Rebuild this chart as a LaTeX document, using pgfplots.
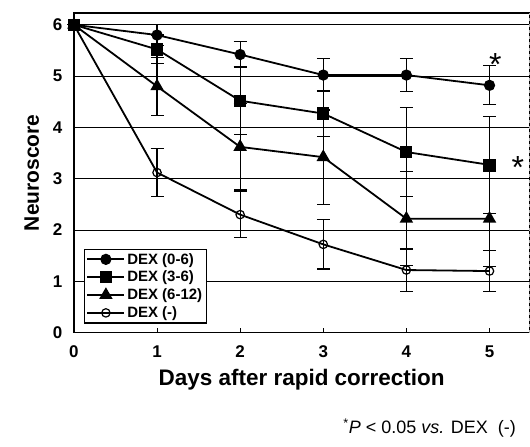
\documentclass[border=0pt]{standalone}
\usepackage{pgfplots}
\pgfplotsset{compat=1.18}
\usepackage{fontspec}
\setmainfont{Liberation Sans}
\begin{document}
\begin{tikzpicture}
\pgfplotsset{
  ebar/.style={error bars/.cd, y dir=both, y explicit,
    error bar style={line width=1.1pt, black},
    error mark options={rotate=90, mark size=6.5pt, line width=1.1pt, black}},
}
\begin{axis}[
    anchor=origin, at={(0,0)},
    scale only axis, width=456pt, height=320pt,
    xmin=0, xmax=5.48, ymin=0, ymax=6.23,
    xtick={0,1,2,3,4,5}, ytick={0,1,2,3,4,5,6},
    axis line style={line width=1.2pt},
    x tick style={line width=1pt, black}, major tick length=5pt,
    y tick style={draw=none},
    xtick pos=bottom, ytick pos=left,
    ymajorgrids, grid style={line width=0.9pt, black},
    tick label style={font=\fontsize{17}{19}\selectfont\bfseries},
    /pgf/number format/assume math mode=true,
    xticklabel style={yshift=-10pt},
    yticklabel style={xshift=-8pt},
    xlabel={Days after rapid correction},
    ylabel={Neuroscore},
    xlabel style={font=\fontsize{22.5}{25}\selectfont\bfseries, yshift=-4pt},
    ylabel style={font=\fontsize{21}{23}\selectfont\bfseries, yshift=7pt},
    clip=false,
    legend style={at={(rel axis cs:0.022,0.028)}, anchor=south west,
      draw=black, line width=1.2pt, font=\fontsize{15}{17}\selectfont\bfseries,
      row sep=1.5pt, inner sep=2pt},
    legend cell align=left,
    legend image code/.code={
      \draw[#1, mark repeat=2, mark phase=2] plot coordinates {(0cm,0cm) (0.65cm,0cm) (1.3cm,0cm)};},
  ]
  \addplot[black, line width=1.8pt, mark=*, mark size=4.7pt, ebar]
    coordinates {(0,6) +- (0,0) (1,5.8) +- (0,0.2) (2,5.42) +- (0,0.25)
                 (3,5.02) +- (0,0.32) (4,5.02) +- (0,0.32) (5,4.82) +- (0,0.38)};
  \addlegendentry{DEX (0-6)}
  \addplot[black, line width=1.8pt, mark=square*, mark size=5.2pt, ebar]
    coordinates {(0,6) +- (0,0) (1,5.52) +- (0,0.28) (2,4.52) +- (0,0.66)
                 (3,4.27) +- (0,0.45) (4,3.52) +- (0,0.87) (5,3.27) +- (0,0.94)};
  \addlegendentry{DEX (3-6)}
  \addplot[black, line width=1.8pt, mark=triangle*, mark size=6pt, ebar]
    coordinates {(0,6) +- (0,0) (1,4.8) +- (0,0.57) (2,3.62) +- (0,0.84)
                 (3,3.42) +- (0,0.92) (4,2.22) +- (0,0.92) (5,2.22) +- (0,0.93)};
  \addlegendentry{DEX (6-12)}
  \addplot[black, line width=1.8pt, mark=o, mark size=4.2pt,
      mark options={fill=white, line width=1.2pt}, ebar]
    coordinates {(0,6) +- (0,0) (1,3.12) +- (0,0.46) (2,2.3) +- (0,0.45)
                 (3,1.72) +- (0,0.48) (4,1.22) +- (0,0.41) (5,1.2) +- (0,0.4)};
  \addlegendentry{DEX (-)}
  \node[font=\fontsize{32}{32}\selectfont] at (axis cs:5.07,5.22) {*};
  \node[font=\fontsize{32}{32}\selectfont] at (axis cs:5.34,3.22) {*};
  \draw[line width=1pt] (rel axis cs:0,1) -- (rel axis cs:1,1);
  \draw[line width=0.6pt, gray!60, dashed] (rel axis cs:1,0) -- (rel axis cs:1,1);
\end{axis}
\node[anchor=base east, font=\fontsize{18}{20}\selectfont] at (446pt,-101pt)
  {\textsuperscript{*}\textit{P} < 0.05 \textit{vs.} DEX\ \ (-)};
\path[use as bounding box] (-74pt,-114pt) rectangle (456pt,333pt);
\end{tikzpicture}
\end{document}
